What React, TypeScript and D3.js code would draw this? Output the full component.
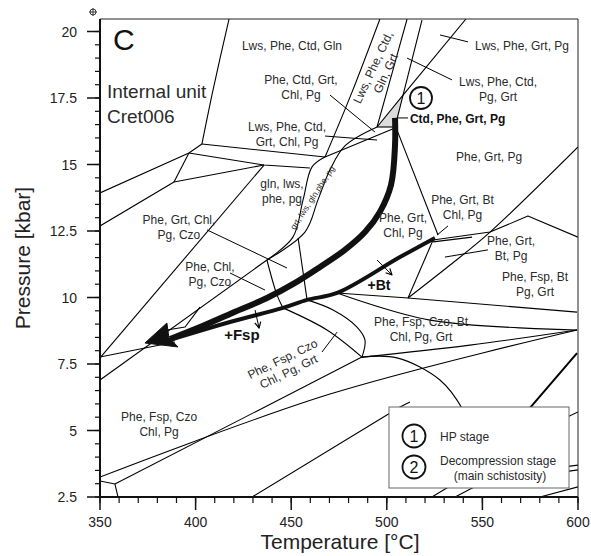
import * as d3 from "d3";

type Pt = [number, number];

// axis ticks
const tempTicks = [350, 400, 450, 500, 550, 600];
const pressTicks = [2.5, 5, 7.5, 10, 12.5, 15, 17.5, 20];
const tempMinor = d3.range(350, 601, 10);
const pressMinor = d3.range(2.5, 20.3, 0.5);

// reaction lines, T [°C] / P [kbar]
const straightLines: Pt[][] = [
  [[403.3, 15.77], [467.7, 15.28]],
  [[396.5, 15.43], [435.8, 14.98], [459.8, 14.87]],
  [[350, 13.93], [396.5, 15.43], [403.3, 15.77]],
  [[396.5, 15.43], [388.7, 14.34]],
  [[350, 12.69], [388.7, 14.34], [435.8, 14.98]],
  [[435.8, 14.98], [350, 7.73]],
  [[350, 6.9], [437.3, 11.41]],
  [[541.4, 20.47], [508.5, 17.61], [494.9, 16.41]],
  [[518.4, 20.43], [508.5, 17.61], [504.3, 16.41]],
  [[494.9, 16.41], [504.3, 16.41]],
  [[504.3, 16.37], [467.7, 15.28]],
  [[453.6, 12.24], [458.3, 9.91]],
  [[357.8, 2.99], [487.0, 7.76]],
  [[350, 3.1], [357.8, 2.99], [359.4, 2.5]],
  [[429.5, 2.5], [506.9, 5.88], [512.1, 6.07]],
  [[474.0, 10.17], [511.1, 9.98], [599.5, 9.45]],
  [[511.1, 9.98], [524.2, 12.16]],
  [[524.2, 12.16], [554.0, 12.46], [573.8, 13.06], [600, 12.27]],
  [[524.2, 12.09], [544.6, 12.27]],
  [[505.3, 16.3], [526.8, 12.35]],
  [[580.1, 5.02], [600, 5.7]],
  [[523.6, 2.5], [538.3, 3.14], [600, 3.7]],
  [[535.7, 2.5], [548.7, 2.99], [600, 3.52]],
  [[580.1, 2.5], [600, 2.88]],
  [[350, 7.76], [389.2, 8.33]],
  [[402.3, 9.64], [394.5, 8.89], [385.0, 8.78]],
];

const curvedLines: Pt[][] = [
  [[417.5, 20.47], [409.1, 17.8], [403.3, 15.77]],
  [[496.4, 20.47], [481.8, 17.72], [467.7, 15.28]],
  [[510.6, 20.47], [503.2, 18.55], [494.9, 16.41]],
  [[494.9, 16.41], [478.1, 15.7], [470.3, 14.8], [464.0, 13.67], [457.2, 12.46], [437.3, 11.41]],
  [[467.7, 15.28], [460.9, 14.91], [456.2, 13.67], [450.9, 12.27], [437.3, 11.41]],
  [[437.3, 11.41], [442.6, 10.09], [445.7, 9.61]],
  [[445.7, 9.61], [468.7, 8.78], [487.0, 7.76]],
  [[458.3, 9.91], [471.9, 9.53], [484.4, 8.89], [488.6, 8.4], [487.0, 7.76]],
  [[487.0, 7.76], [505.3, 7.73], [527.8, 6.9], [539.9, 5.77], [546.1, 4.64]],
  [[487.0, 7.76], [543.5, 8.21], [599.5, 8.78]],
  [[350, 3.25], [470.3, 6.37], [599.5, 8.78]],
  [[474.0, 10.17], [522.6, 9.15], [599.5, 8.78]],
  [[511.1, 9.98], [533.1, 11.22], [554.0, 12.46], [600, 15.66]],
];

const heavyLine: Pt[] = [[556.1, 4.27], [574.9, 5.85], [599.5, 7.91]];

const leaderLines: Pt[][] = [
  [[527.8, 19.87], [542.5, 19.61]],
  [[510.6, 19.0], [534.1, 18.18]],
  [[470.3, 17.61], [493.8, 16.22]],
  [[467.7, 16.07], [494.9, 15.92]],
  [[406.0, 12.54], [447.8, 11.11]],
  [[418.0, 10.92], [436.3, 10.28]],
  [[530.4, 11.52], [552.9, 11.79]],
  [[466.1, 7.95], [474.0, 8.7]],
  [[526.3, 12.35], [532.0, 12.69]],
  [[505.9, 16.75], [511.1, 16.75]],
];

const peakField: Pt[] = [[494.9, 16.41], [508.5, 17.61], [504.3, 16.41]];

// P-T paths
const hpPath: Pt[] = [
  [504.3, 16.75], [504.3, 15.73], [502.2, 14.23], [496.4, 13.22], [488.6, 12.46],
  [478.1, 11.79], [465.1, 11.15], [452.0, 10.55], [437.3, 9.98], [418.0, 9.38],
  [402.3, 8.89], [386.6, 8.44],
];
const decompressionPath: Pt[] = [
  [525.2, 12.24], [506.9, 11.52], [474.0, 10.17], [458.3, 9.91], [445.7, 9.61],
  [418.0, 9.08], [391.8, 8.52], [386.6, 8.4],
];
const arrowHead: Pt[] = [[373.5, 8.29], [385.0, 9.04], [386.0, 8.5], [390.8, 8.14]];
const smallArrows: Pt[][] = [
  [[494.9, 11.41], [502.7, 10.85]],
  [[431.1, 9.53], [433.2, 8.85]],
];

const fieldLabels: { lines: string[]; at: Pt }[] = [
  { lines: ["Lws, Phe, Ctd, Gln"], at: [450.4, 19.31] },
  { lines: ["Phe, Ctd, Grt,", "Chl, Pg"], at: [455.1, 18.03] },
  { lines: ["Lws, Phe, Ctd,", "Grt, Chl, Pg"], at: [447.8, 16.26] },
  { lines: ["gln, lws,", "phe, pg"], at: [445.2, 14.12] },
  { lines: ["Phe, Grt, Chl,", "Pg, Czo"], at: [391.3, 12.76] },
  { lines: ["Phe, Chl,", "Pg, Czo"], at: [407.5, 11.0] },
  { lines: ["Phe, Fsp, Czo", "Chl, Pg"], at: [380.9, 5.36] },
  { lines: ["Lws, Phe, Grt, Pg"], at: [570.7, 19.31] },
  { lines: ["Lws, Phe, Ctd,", "Pg, Grt"], at: [558.2, 17.95] },
  { lines: ["Phe, Grt, Pg"], at: [553.5, 15.13] },
  { lines: ["Phe, Grt, Bt", "Chl, Pg"], at: [539.6, 13.52] },
  { lines: ["Phe, Grt,", "Chl, Pg"], at: [508.5, 12.84] },
  { lines: ["Phe, Grt,", "Bt, Pg"], at: [565.0, 11.97] },
  { lines: ["Phe, Fsp, Bt", "Pg, Grt"], at: [577.5, 10.62] },
  { lines: ["Phe, Fsp, Czo, Bt", "Chl, Pg, Grt"], at: [517.9, 8.93] },
];

const tiltedLabels: { lines: string[]; at: Pt; angle: number }[] = [
  { lines: ["Phe, Fsp, Czo", "Chl, Pg, Grt"], at: [445.7, 7.65], angle: -26 },
  { lines: ["Lws, Phe, Ctd,", "Gln, Grt"], at: [493.3, 18.63], angle: -65 },
];
const bandLabel = { text: "grt, lws, gln,phe, pg", at: [461.4, 13.74] as Pt, angle: -57 };

// bold annotations: text, T, P (baseline)
const pathLabels: { text: string; at: Pt; size: number }[] = [
  { text: "+Bt", at: [495.9, 10.28], size: 14 },
  { text: "+Fsp", at: [424.2, 8.4], size: 15 },
];

const legendItems = [
  { key: "1", lines: ["HP stage"] },
  { key: "2", lines: ["Decompression stage", "(main schistosity)"] },
];

const FONT = "'Liberation Sans', Arial, sans-serif";
const INK = "#2a2a2a";

export default function App() {
  const left = 100, right = 578, top = 19, bottom = 497;
  const x = d3.scaleLinear().domain([350, 600]).range([left, right]);
  const y = d3.scaleLinear().domain([2.5, 20.47]).range([bottom, top]);
  const straight = d3.line<Pt>().x((d) => x(d[0])).y((d) => y(d[1]));
  const smooth = d3
    .line<Pt>()
    .x((d) => x(d[0]))
    .y((d) => y(d[1]))
    .curve(d3.curveCatmullRom.alpha(0.5));
  const closed = (pts: Pt[]) => straight(pts) + "Z";

  const arrowTip = (seg: Pt[]) => {
    const [a, b] = seg.map((p) => [x(p[0]), y(p[1])]);
    const ang = Math.atan2(b[1] - a[1], b[0] - a[0]);
    const L = 6, W = 3;
    const p1 = [b[0] - L * Math.cos(ang) + W * Math.sin(ang), b[1] - L * Math.sin(ang) - W * Math.cos(ang)];
    const p2 = [b[0] - L * Math.cos(ang) - W * Math.sin(ang), b[1] - L * Math.sin(ang) + W * Math.cos(ang)];
    return `M${p1[0]},${p1[1]}L${b[0]},${b[1]}L${p2[0]},${p2[1]}`;
  };

  return (
    <svg
      width={591}
      height={556}
      style={{ position: "absolute", left: 0, top: 0, background: "#fff" }}
      fontFamily={FONT}
    >
      <defs>
        <clipPath id="plot">
          <rect x={left} y={top} width={right - left} height={bottom - top} />
        </clipPath>
      </defs>

      <g clipPath="url(#plot)" fill="none" stroke="#000" strokeLinejoin="round">
        <path d={closed(peakField)} fill="#dcdcdc" stroke="none" />
        {straightLines.map((l, i) => (
          <path key={"s" + i} d={straight(l)!} strokeWidth={1.1} />
        ))}
        {curvedLines.map((l, i) => (
          <path key={"c" + i} d={smooth(l)!} strokeWidth={1.1} />
        ))}
        <path d={straight(heavyLine)!} strokeWidth={2} />
        {leaderLines.map((l, i) => (
          <path key={"l" + i} d={straight(l)!} strokeWidth={1} />
        ))}
        <path d={smooth(hpPath)!} strokeWidth={6} stroke="#111" />
        <path d={smooth(decompressionPath)!} strokeWidth={4} stroke="#111" />
        <path d={closed(arrowHead)} fill="#111" stroke="#111" strokeWidth={1} />
        {smallArrows.map((a, i) => (
          <g key={"a" + i}>
            <path d={straight(a)!} strokeWidth={1} />
            <path d={arrowTip(a)} strokeWidth={1.2} />
          </g>
        ))}
      </g>

      {/* field labels */}
      <g fontSize={12} fill={INK} textAnchor="middle">
        {fieldLabels.map((f, i) => (
          <text key={i} x={x(f.at[0])} y={y(f.at[1])}>
            {f.lines.map((t, j) => (
              <tspan key={j} x={x(f.at[0])} dy={j === 0 ? 0 : 15}>
                {t}
              </tspan>
            ))}
          </text>
        ))}
        {tiltedLabels.map((f, i) => (
          <text key={"t" + i} transform={`translate(${x(f.at[0])},${y(f.at[1])}) rotate(${f.angle})`} dominantBaseline="middle">
            {f.lines.map((t, j) => (
              <tspan key={j} x={0} dy={j === 0 ? 0 : 14}>
                {t}
              </tspan>
            ))}
          </text>
        ))}
        <text
          transform={`translate(${x(bandLabel.at[0])},${y(bandLabel.at[1])}) rotate(${bandLabel.angle})`}
          fontSize={8.5}
          dominantBaseline="middle"
        >
          {bandLabel.text}
        </text>
      </g>

      <text x={x(512.1)} y={y(16.56)} fontSize={12} fontWeight="bold" fill="#111">
        Ctd, Phe, Grt, Pg
      </text>
      {pathLabels.map((p) => (
        <text key={p.text} x={x(p.at[0])} y={y(p.at[1])} fontSize={p.size} fontWeight="bold" fill="#111" textAnchor="middle">
          {p.text}
        </text>
      ))}

      {/* stage marker 1 */}
      <circle cx={421} cy={98} r={11} fill="#fff" stroke="#111" strokeWidth={1.8} />
      <text x={421} y={104} fontSize={16} textAnchor="middle" fill="#111">
        1
      </text>

      <text x={113} y={50} fontSize={30} fill="#111">
        C
      </text>
      <text x={107} y={98} fontSize={19} fill={INK}>
        Internal unit
      </text>
      <text x={107} y={123} fontSize={19} fill={INK}>
        Cret006
      </text>

      {/* legend */}
      <g>
        <rect x={389} y={407} width={180} height={81} fill="#fff" stroke="#666" strokeWidth={1} />
        {legendItems.map((it, i) => (
          <g key={it.key}>
            <circle cx={414} cy={436 + i * 31} r={11.5} fill="#fff" stroke="#111" strokeWidth={1.8} />
            <text x={414} y={442 + i * 31} fontSize={16} textAnchor="middle" fill="#111">
              {it.key}
            </text>
            {it.lines.map((t, j) =>
              j === 0 ? (
                <text key={j} x={440} y={i === 0 ? 441 : 465} fontSize={12} fill={INK}>
                  {t}
                </text>
              ) : (
                <text key={j} x={500} y={480} fontSize={12} fill={INK} textAnchor="middle">
                  {t}
                </text>
              )
            )}
          </g>
        ))}
      </g>

      {/* frame */}
      <path d={`M${left},${top}H${right}V${bottom}`} fill="none" stroke="#222" strokeWidth={1} />

      {/* axes */}
      <g stroke="#111">
        <line x1={left} x2={right} y1={bottom} y2={bottom} strokeWidth={2} />
        <line x1={left} x2={left} y1={top} y2={bottom} strokeWidth={2} />
        {tempMinor.map((t) => (
          <line key={"tm" + t} x1={x(t)} x2={x(t)} y1={bottom} y2={bottom + 6} strokeWidth={1.2} />
        ))}
        {tempTicks.map((t) => (
          <line key={"tM" + t} x1={x(t)} x2={x(t)} y1={bottom} y2={bottom + 13} strokeWidth={1.5} />
        ))}
        {pressMinor.map((p) => (
          <line key={"pm" + p} x1={left - 5} x2={left} y1={y(p)} y2={y(p)} strokeWidth={1.2} />
        ))}
        {pressTicks.map((p) => (
          <line key={"pM" + p} x1={left - 13} x2={left} y1={y(p)} y2={y(p)} strokeWidth={1.5} />
        ))}
      </g>
      <g fontSize={14} fill="#222">
        {tempTicks.map((t) => (
          <text key={t} x={x(t)} y={527} textAnchor="middle">
            {t}
          </text>
        ))}
        {pressTicks.map((p) => (
          <text key={p} x={77} y={y(p) + 5} textAnchor="end">
            {p}
          </text>
        ))}
      </g>
      <text x={340} y={549} fontSize={21} textAnchor="middle" fill="#222">
        Temperature [°C]
      </text>
      <text transform={`translate(30,${(top + bottom) / 2}) rotate(-90)`} fontSize={21} textAnchor="middle" fill="#222">
        Pressure [kbar]
      </text>

      {/* small registration mark */}
      <g stroke="#333" strokeWidth={1} fill="none">
        <circle cx={93} cy={12} r={3} />
        <line x1={89} x2={97} y1={12} y2={12} />
        <line x1={93} x2={93} y1={8} y2={16} />
      </g>
    </svg>
  );
}
